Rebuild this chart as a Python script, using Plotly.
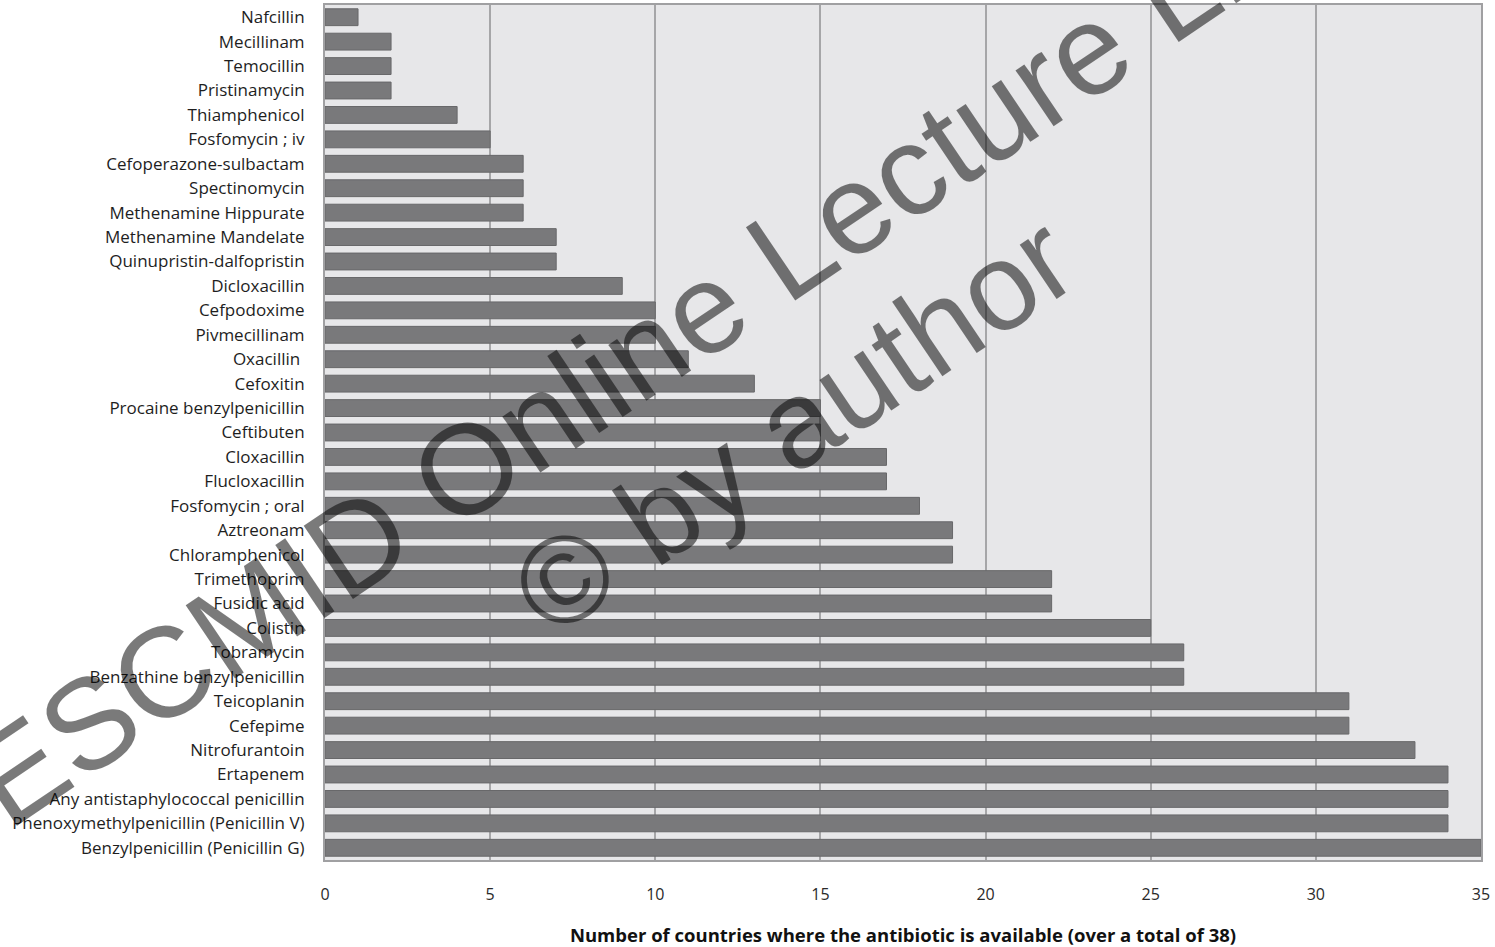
import plotly.graph_objects as go

antibiotics = [
    "Nafcillin", "Mecillinam", "Temocillin", "Pristinamycin", "Thiamphenicol",
    "Fosfomycin ; iv", "Cefoperazone-sulbactam", "Spectinomycin",
    "Methenamine Hippurate", "Methenamine Mandelate", "Quinupristin-dalfopristin",
    "Dicloxacillin", "Cefpodoxime", "Pivmecillinam", "Oxacillin ", "Cefoxitin",
    "Procaine benzylpenicillin", "Ceftibuten", "Cloxacillin", "Flucloxacillin",
    "Fosfomycin ; oral", "Aztreonam", "Chloramphenicol", "Trimethoprim",
    "Fusidic acid", "Colistin", "Tobramycin", "Benzathine benzylpenicillin",
    "Teicoplanin", "Cefepime", "Nitrofurantoin", "Ertapenem",
    "Any antistaphylococcal penicillin", "Phenoxymethylpenicillin (Penicillin V)",
    "Benzylpenicillin (Penicillin G)",
]
countries = [
    1, 2, 2, 2, 4,
    5, 6, 6,
    6, 7, 7,
    9, 10, 10, 11, 13,
    15, 15, 17, 17,
    18, 19, 19, 22,
    22, 25, 26, 26,
    31, 31, 33, 34,
    34, 34,
    35,
]
x_ticks = [0, 5, 10, 15, 20, 25, 30, 35]
x_title = "Number of countries where the antibiotic is available (over a total of 38)"
watermark_line1 = "ESCMID Online Lecture Library"
watermark_line2 = "© by author"

W, H = 1495, 947
L, R, T, B = 325, 14, 3, 87
pw, ph = W - L - R, H - T - B


def px2paper(px, py):
    return (px - L) / pw, (H - B - py) / ph


fig = go.Figure(
    go.Bar(
        x=countries,
        y=antibiotics,
        orientation="h",
        width=0.69,
        marker=dict(color="rgb(121,121,123)", line=dict(color="rgb(104,104,106)", width=1)),
        hoverinfo="x+y",
    )
)

fig.update_layout(
    width=W,
    height=H,
    margin=dict(l=L, r=R, t=T, b=B, pad=0),
    paper_bgcolor="white",
    plot_bgcolor="#e7e7e9",
    showlegend=False,
    font=dict(family="'Open Sans', Lato, sans-serif", color="#1e1e1e"),
)

fig.update_xaxes(
    range=[0, 35],
    tickvals=x_ticks,
    ticktext=[str(v) for v in x_ticks],
    showgrid=True,
    gridcolor="#a6a6a8",
    gridwidth=2,
    zeroline=False,
    showline=True,
    linecolor="#a0a0a2",
    linewidth=2,
    mirror=True,
    ticks="",
    ticklabelstandoff=19,
    tickfont=dict(size=16, color="#2a2a2a"),
    title=dict(text="<b>" + x_title + "</b>", font=dict(size=18.5, color="#111111"), standoff=25),
)

fig.update_yaxes(
    categoryorder="array",
    categoryarray=antibiotics,
    autorange="reversed",
    showgrid=False,
    showline=True,
    linecolor="#a0a0a2",
    linewidth=2,
    mirror=True,
    ticks="",
    ticklabelstandoff=15,
    tickfont=dict(size=17, color="#1e1e1e"),
)

wm_color = "rgba(0,0,0,0.52)"
wm_family = "Liberation Sans, Arial, sans-serif"
for text, (cx, cy), size in [
    (watermark_line1, (726, 292), 128),
    (watermark_line2, (793, 424), 124),
]:
    ax, ay = px2paper(cx, cy)
    fig.add_annotation(
        text=text, xref="paper", yref="paper", x=ax, y=ay,
        xanchor="center", yanchor="middle", showarrow=False,
        textangle=-34, font=dict(family=wm_family, size=size, color=wm_color),
    )

fig.write_html(
    "out.html",
    config={"displayModeBar": False},
    post_script="document.body.style.margin='0';",
)
